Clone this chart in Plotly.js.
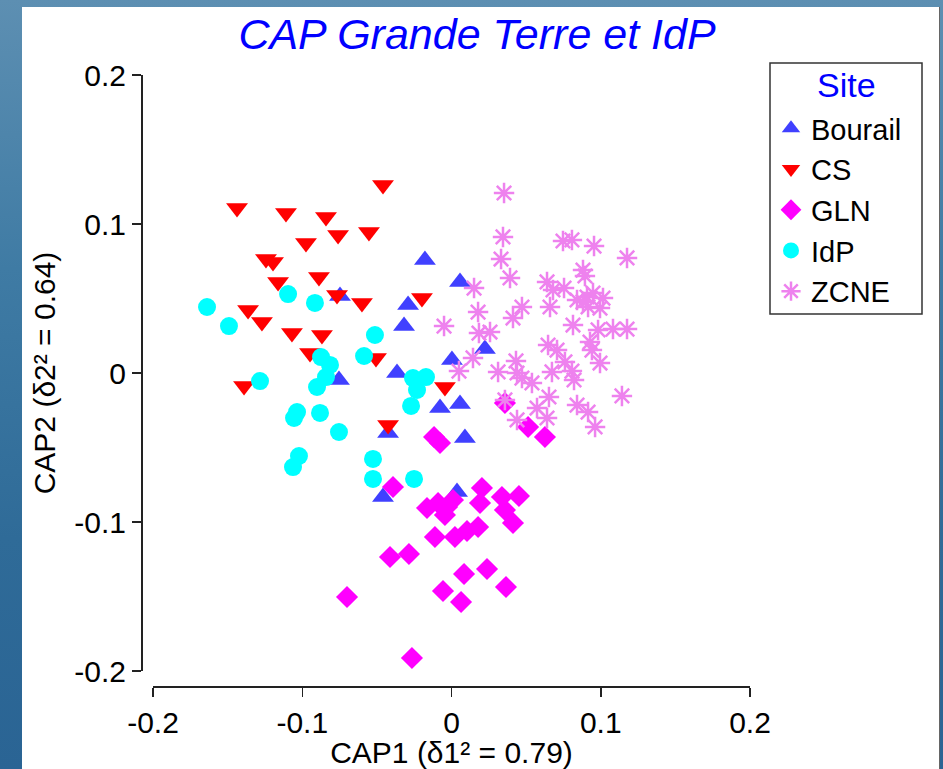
<!DOCTYPE html>
<html><head><meta charset="utf-8">
<script src="https://cdn.plot.ly/plotly-3.0.1.min.js"></script>
<style>
html,body{margin:0;padding:0;width:943px;height:769px;overflow:hidden;}
body{background:linear-gradient(180deg,#5d8fb2 0%,#3f7ba4 35%,#2f6b98 70%,#2a6494 100%);}
#panel{position:absolute;left:22px;top:7px;width:917px;height:762px;background:#fff;border-right:1px solid #666;}
#chart{position:absolute;left:0;top:0;width:943px;height:769px;}
</style></head><body>
<div id="panel"></div><div id="chart"></div>
<script>
// ---- data ----
const siteNames = ['Bourail', 'CS', 'GLN', 'IdP', 'ZCNE'];

const bourailX = [-0.0178, 0.0057, -0.0291, -0.0318, 0.0224, -0.0754, -0.0365, 0.0003, 0.0057, -0.0077, -0.0425, 0.0090, -0.0459, 0.0037, -0.0747];
const bourailY = [0.0758, 0.0611, 0.0456, 0.0315, 0.0161, -0.0047, 0.0000, 0.0087, -0.0208, -0.0235, -0.0403, -0.0436, -0.0832, -0.0799, 0.0517];

const csX = [-0.1437, -0.1109, -0.0841, -0.0760, -0.0553, -0.0459, -0.0975, -0.1243, -0.1196, -0.1162, -0.0888, -0.0767, -0.0600, -0.0198, -0.1363, -0.1270, -0.1069, -0.0868, -0.0948, -0.0506, -0.1390, -0.0425, -0.0044];
const csY = [0.1107, 0.1074, 0.1047, 0.0926, 0.0946, 0.1262, 0.0872, 0.0765, 0.0745, 0.0611, 0.0644, 0.0523, 0.0470, 0.0503, 0.0423, 0.0342, 0.0268, 0.0255, 0.0134, 0.0101, -0.0087, -0.0349, -0.0094];

const glnX = [-0.0117, -0.0077, -0.0392, -0.0164, -0.0090, -0.0030, -0.0044, 0.0010, 0.0204, 0.0191, 0.0338, 0.0452, 0.0358, 0.0412, -0.0111, 0.0023, 0.0104, 0.0178, -0.0412, -0.0285, 0.0084, 0.0238, -0.0057, 0.0064, 0.0365, -0.0700, -0.0265, 0.0358, 0.0513, 0.0626];
const glnY = [-0.0430, -0.0470, -0.0765, -0.0906, -0.0872, -0.0899, -0.0953, -0.0852, -0.0772, -0.0872, -0.0832, -0.0826, -0.0919, -0.1007, -0.1101, -0.1101, -0.1060, -0.1034, -0.1235, -0.1215, -0.1349, -0.1315, -0.1463, -0.1537, -0.1436, -0.1503, -0.1913, -0.0201, -0.0362, -0.0430];

const idpX = [-0.1638, -0.1491, -0.1095, -0.0915, -0.1283, -0.0874, -0.0814, -0.0841, -0.0901, -0.1035, -0.1055, -0.0881, -0.0754, -0.1022, -0.1062, -0.0513, -0.0586, -0.0258, -0.0171, -0.0231, -0.0271, -0.0526, -0.0526, -0.0251];
const idpY = [0.0443, 0.0315, 0.0530, 0.0470, -0.0054, 0.0107, 0.0054, -0.0027, -0.0094, -0.0262, -0.0302, -0.0268, -0.0396, -0.0557, -0.0631, 0.0255, 0.0114, -0.0034, -0.0027, -0.0114, -0.0221, -0.0577, -0.0711, -0.0711];

const zcneX = [0.0352, 0.0345, 0.0332, 0.0392, 0.0747, 0.0807, 0.0955, 0.1176, 0.0151, 0.0881, 0.0894, 0.0640, 0.0680, 0.0754, 0.0841, 0.0908, 0.0948, 0.1015, 0.0995, 0.0915, 0.0881, 0.0660, 0.0472, 0.0412, 0.0178, -0.0050, 0.0184, 0.0258, 0.0814, 0.0982, 0.1082, 0.1176, 0.0928, 0.0941, 0.0995, 0.0647, 0.0707, 0.0144, 0.0050, 0.0312, 0.0432, 0.0439, 0.0472, 0.0539, 0.0673, 0.0760, 0.0807, 0.0821, 0.0653, 0.1142, 0.0358, 0.0573, 0.0640, 0.0439, 0.0841, 0.0915, 0.0962];
const zcneY = [0.1208, 0.0913, 0.0765, 0.0638, 0.0886, 0.0893, 0.0852, 0.0772, 0.0570, 0.0691, 0.0651, 0.0611, 0.0557, 0.0570, 0.0490, 0.0510, 0.0537, 0.0503, 0.0436, 0.0443, 0.0477, 0.0443, 0.0443, 0.0369, 0.0409, 0.0315, 0.0268, 0.0275, 0.0322, 0.0289, 0.0295, 0.0295, 0.0208, 0.0154, 0.0067, 0.0188, 0.0154, 0.0101, 0.0013, 0.0007, 0.0081, 0.0000, -0.0034, -0.0067, 0.0007, 0.0074, 0.0013, -0.0047, -0.0161, -0.0154, -0.0181, -0.0235, -0.0302, -0.0315, -0.0215, -0.0262, -0.0362];

const tickVals = [-0.2, -0.1, 0, 0.1, 0.2];
const tickText = ['-0.2', '-0.1', '0', '0.1', '0.2'];
const titleText = 'CAP Grande Terre et IdP';
const xTitle = 'CAP1 (δ1² = 0.79)';
const yTitle = 'CAP2 (δ2² = 0.64)';
const legendTitle = 'Site';

// ---- styling ----
const W = 943, H = 769;
const px = v => v / W;
const py = v => 1 - v / H;
const FONT = 'Liberation Sans, Arial, Helvetica, sans-serif';

function tr(name, x, y, symbol, color, size, open) {
  return {
    type: 'scatter', mode: 'markers', name: name, x: x, y: y, cliponaxis: false,
    marker: open
      ? {symbol: symbol, size: size, color: color, line: {color: color, width: 2.5}}
      : {symbol: symbol, size: size, color: color, line: {width: 0}}
  };
}

const data = [
  tr(siteNames[0], bourailX, bourailY, 'triangle-up', '#4040ff', 19),
  tr(siteNames[1], csX, csY, 'triangle-down', '#ff0000', 19),
  tr(siteNames[2], glnX, glnY, 'diamond', '#ff00ff', 17),
  tr(siteNames[3], idpX, idpY, 'circle', '#00ffff', 18),
  tr(siteNames[4], zcneX, zcneY, 'asterisk-open', '#ee82ee', 17, true)
];

const axisCommon = {
  range: [-0.2, 0.2], anchor: 'free', showline: true, linecolor: '#222', linewidth: 1.5,
  ticks: 'outside', ticklen: 9, tickwidth: 1.5, tickcolor: '#222',
  tickvals: tickVals, ticktext: tickText, showgrid: false, zeroline: false,
  tickfont: {size: 30, color: '#000'}
};

const layout = {
  width: W, height: H, margin: {l: 0, r: 0, t: 0, b: 0},
  paper_bgcolor: 'rgba(0,0,0,0)', plot_bgcolor: 'rgba(0,0,0,0)',
  font: {family: FONT, size: 30, color: '#000'},
  showlegend: true,
  title: {text: '<i>' + titleText + '</i>', font: {size: 43, color: '#0000ff'},
          x: px(477), xanchor: 'center', y: py(34), yanchor: 'middle', xref: 'paper', yref: 'paper'},
  xaxis: Object.assign({}, axisCommon, {
    domain: [px(153), px(750)], position: py(686),
    title: {text: xTitle, standoff: 8, font: {size: 30, color: '#000'}}
  }),
  yaxis: Object.assign({}, axisCommon, {
    domain: [py(671), py(75)], position: px(141),
    title: {text: yTitle, standoff: 8, font: {size: 30, color: '#000'}}
  }),
  legend: {
    x: px(771), y: py(103), xanchor: 'left', yanchor: 'top',
    bgcolor: 'rgba(0,0,0,0)', borderwidth: 0,
    font: {size: 29, color: '#000'}
  },
  shapes: [{
    type: 'rect', xref: 'paper', yref: 'paper', layer: 'above',
    x0: px(770), x1: px(922), y0: py(314), y1: py(63),
    fillcolor: '#ffffff', line: {color: '#333', width: 1.5}
  }],
  annotations: [{
    text: legendTitle, xref: 'paper', yref: 'paper', x: px(846), y: py(85),
    xanchor: 'center', yanchor: 'middle', showarrow: false,
    font: {size: 34, color: '#0000ff'}
  }]
};

Plotly.newPlot('chart', data, layout, {staticPlot: true, displayModeBar: false});
</script>
</body></html>
